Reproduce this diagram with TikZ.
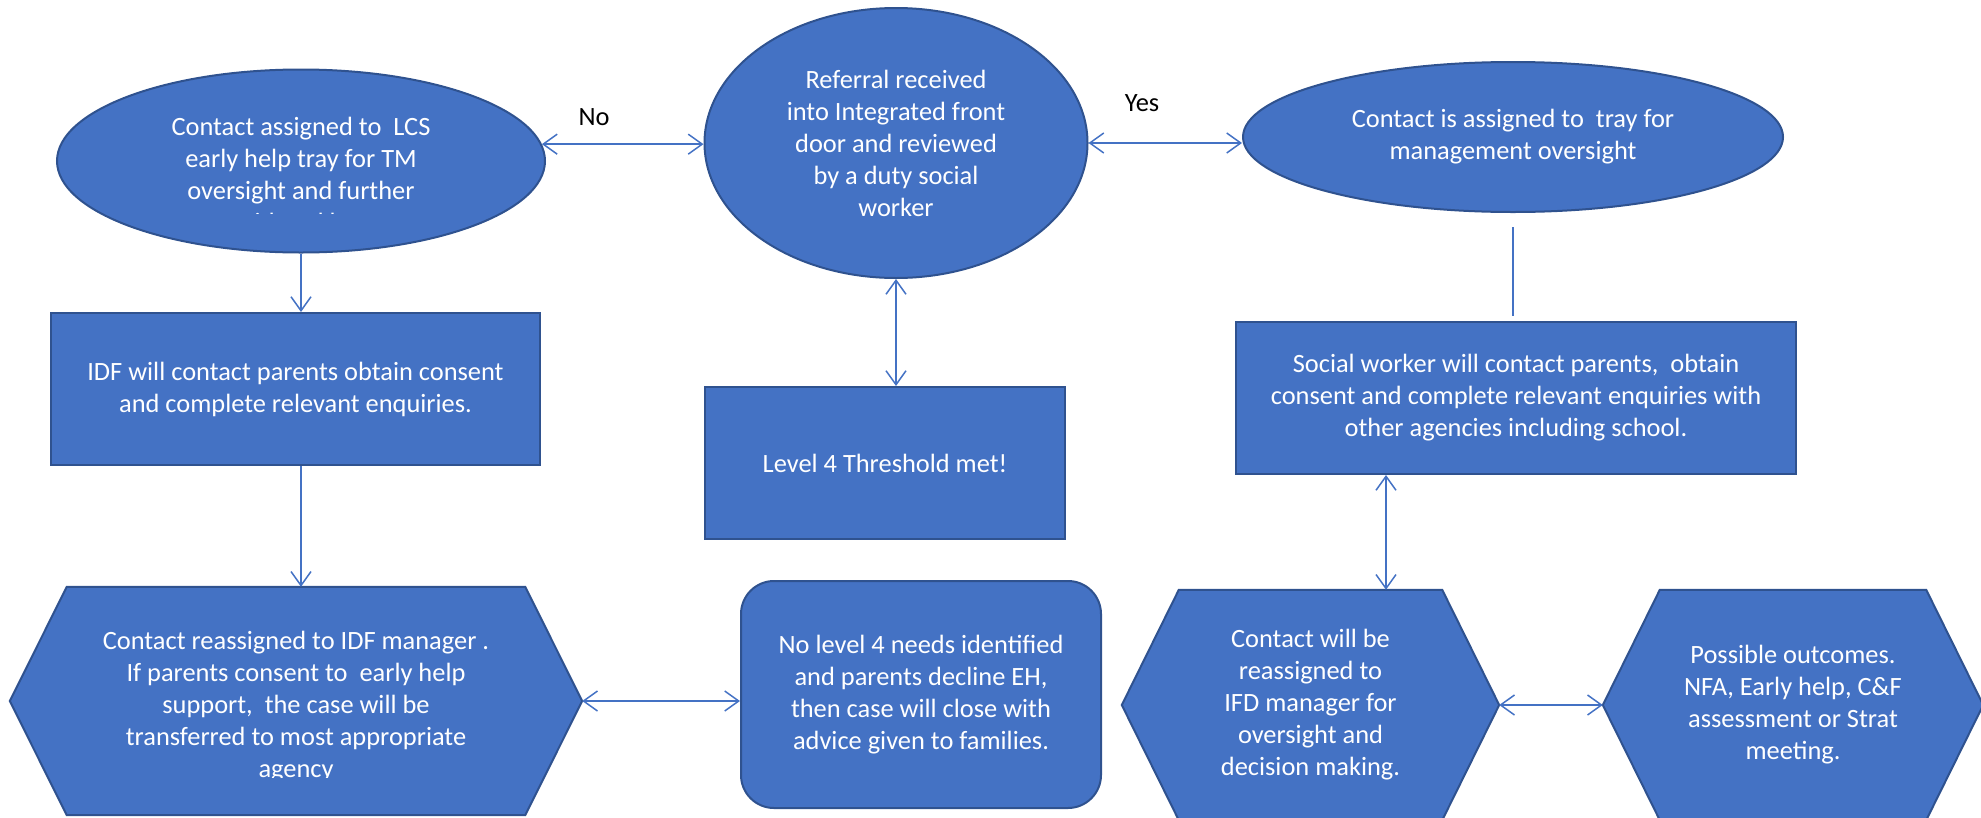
\documentclass[tikz,border=0pt]{standalone}
\usepackage{fontspec}
\setmainfont{Carlito}
\usetikzlibrary{shapes.geometric,arrows.meta,backgrounds}
\definecolor{bleu}{HTML}{4472C4}
\definecolor{bord}{HTML}{2F528F}

\begin{document}
\begin{tikzpicture}[x=1pt,y=-1pt]
\tikzset{fond/.style={fill=bleu, draw=bord, line width=2pt},
texte/.style={text=white, align=center, inner sep=0pt, font=\fontsize{26.4}{32}\selectfont},
ovale/.style={fond, texte, ellipse},
boite/.style={fond, texte, rectangle},
hexa/.style={texte, rectangle},
etiq/.style={font=\fontsize{26.4}{32}\selectfont},
lien/.style={draw=bleu, line width=1.5pt, >={Straight Barb[length=14pt,width=20pt]}}}
\useasboundingbox (0,0) rectangle (1981,817);
\clip (0,0) rectangle (1981,817);
\node[ovale, minimum width=488, minimum height=183] (E1) at (301,161) {};
\node[ovale, minimum width=383, minimum height=270] (E2) at (896,143) {Referral received\\into Integrated front\\door and reviewed\\by a duty social\\worker};
\node[ovale, minimum width=540, minimum height=150] (E3) at (1513,137) {Contact is assigned to\ \ tray for\\management oversight};
\node[boite, minimum width=489, minimum height=152] (R1) at (295.5,389) {IDF will contact parents obtain consent\\and complete relevant enquiries.};
\node[boite, minimum width=360, minimum height=152] (R2) at (885,463) {Level 4 Threshold met!};
\node[boite, minimum width=560, minimum height=152] (R3) at (1516,398) {Social worker will contact parents,\ \ obtain\\consent and complete relevant enquiries with\\other agencies including school.};
\node[boite, rounded corners=33pt, minimum width=360, minimum height=227] (B1) at (921,694.5) {No level 4 needs identified\\and parents decline EH,\\then case will close with\\advice given to families.};
\node[hexa, minimum width=572, minimum height=228] (H1) at (296,701) {};
\node[hexa, minimum width=377, minimum height=230] (H2) at (1310.5,705) {Contact will be\\reassigned to\\IFD manager for\\oversight and\\decision making.};
\node[hexa, minimum width=380, minimum height=230] (H3) at (1793,705) {Possible outcomes.\\NFA, Early help, C\&F\\assessment or Strat\\meeting.};
\node[etiq] (L1) at (594,117) {No};
\node[etiq] (L2) at (1142,103) {Yes};
\begin{scope}
\clip (57,70) rectangle (546,213);
\node[texte] (T1) at (301,176) {Contact assigned to\ \ LCS\\early help tray for TM\\oversight and further\\considered by IFD};
\end{scope}
\begin{scope}
\clip (10,587) rectangle (582,777);
\node[texte] (T2) at (296,707) {Contact reassigned to IDF manager .\\If parents consent to\ \ early help\\support,\ \ the case will be\\transferred to most appropriate\\agency};
\end{scope}
\begin{pgfonlayer}{background}
\clip (0,0) rectangle (1981,817);
\foreach \h in {H1,H2,H3}
  \draw[fond] (\h.west) -- ([xshift=57]\h.north west) -- ([xshift=-57]\h.north east) -- (\h.east) -- ([xshift=-57]\h.south east) -- ([xshift=57]\h.south west) -- cycle;
\end{pgfonlayer}
\coordinate (P1) at ([xshift=75.5pt]H2.north);
\draw[lien,<->] (E1.4) -- (E1.4 -| E2.west);
\draw[lien,<->] (E2.east) -- (E2.east -| E3.west);
\draw[lien,<->] (E2.south) -- (E2.south |- R2.north);
\draw[lien,->] (E1.south) -- (E1.south |- R1.north);
\draw[lien,->] (E1.south |- R1.south) -- (E1.south |- H1.north);
\draw[lien,shorten <=14pt,shorten >=5pt] (E3.south) -- (E3.south |- R3.north);
\draw[lien,<->] (P1 |- R3.south) -- (P1);
\draw[lien,<->] (H1.east) -- (H1.east -| B1.west);
\draw[lien,<->] (H2.east) -- (H3.west);
\end{tikzpicture}
\end{document}
